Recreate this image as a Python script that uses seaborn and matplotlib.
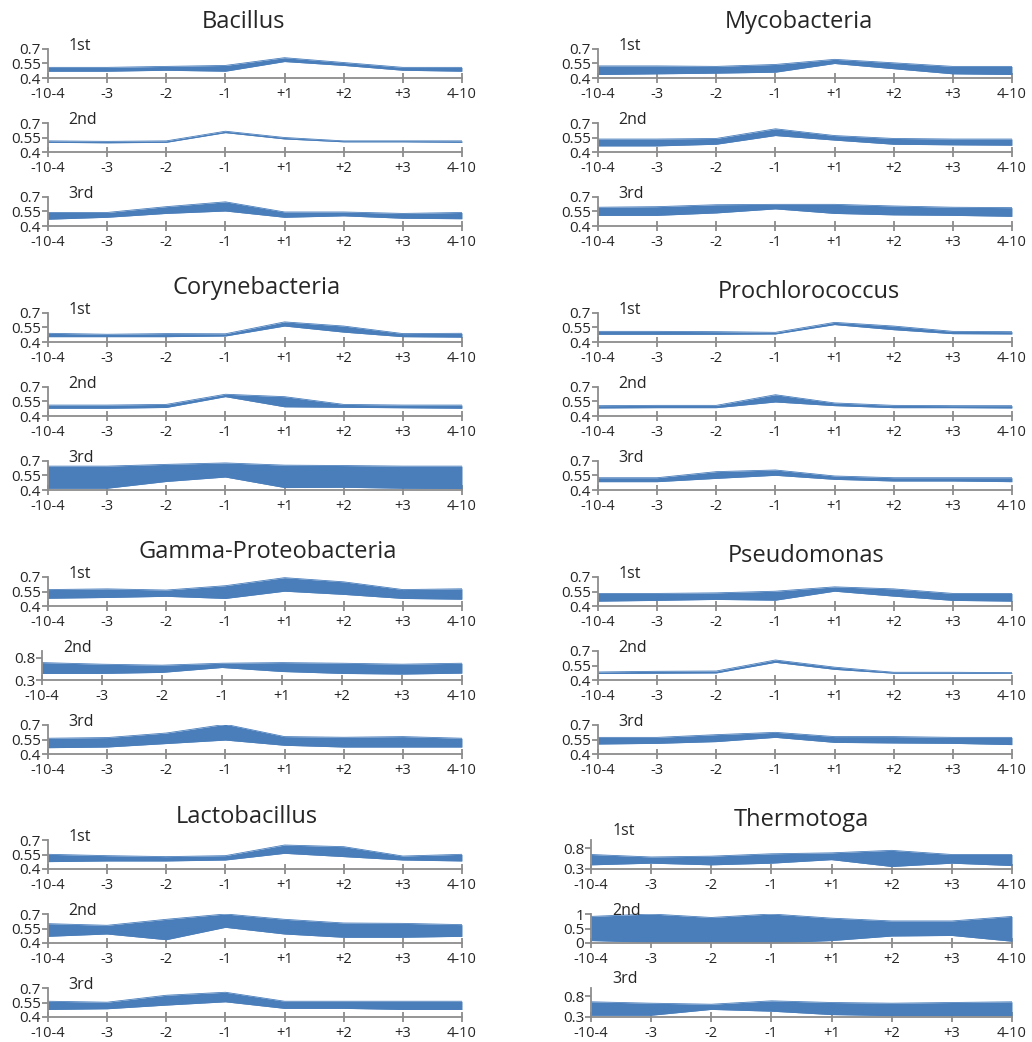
import numpy as np
import pandas as pd
import matplotlib
matplotlib.use("Agg")
import matplotlib.pyplot as plt
import seaborn as sns

positions = ['-10-4', '-3', '-2', '-1', '+1', '+2', '+3', '4-10']
panel_names = ['1st', '2nd', '3rd']

# lower / upper edge of each band, rows = 1st, 2nd, 3rd
bacillus_lo = [[0.47, 0.47, 0.48, 0.47, 0.57, 0.53, 0.48, 0.47],
               [0.50, 0.495, 0.50, 0.60, 0.535, 0.505, 0.505, 0.50],
               [0.47, 0.49, 0.53, 0.555, 0.49, 0.505, 0.48, 0.475]]
bacillus_hi = [[0.51, 0.51, 0.52, 0.53, 0.61, 0.56, 0.51, 0.51],
               [0.515, 0.51, 0.515, 0.615, 0.55, 0.515, 0.515, 0.515],
               [0.54, 0.54, 0.60, 0.65, 0.545, 0.545, 0.53, 0.54]]

myco_lo = [[0.436, 0.443, 0.45, 0.46, 0.55, 0.496, 0.443, 0.436],
           [0.463, 0.463, 0.48, 0.57, 0.523, 0.48, 0.474, 0.47],
           [0.51, 0.51, 0.535, 0.577, 0.53, 0.515, 0.51, 0.50]]
myco_hi = [[0.525, 0.525, 0.52, 0.54, 0.593, 0.557, 0.52, 0.52],
           [0.534, 0.534, 0.54, 0.64, 0.57, 0.54, 0.534, 0.534],
           [0.594, 0.60, 0.62, 0.624, 0.624, 0.607, 0.594, 0.59]]

coryne_lo = [[0.455, 0.455, 0.455, 0.462, 0.565, 0.502, 0.455, 0.45],
             [0.48, 0.48, 0.488, 0.60, 0.495, 0.49, 0.485, 0.48],
             [0.418, 0.418, 0.488, 0.534, 0.425, 0.428, 0.418, 0.415]]
coryne_hi = [[0.49, 0.48, 0.487, 0.485, 0.608, 0.565, 0.487, 0.49],
             [0.513, 0.513, 0.52, 0.625, 0.60, 0.52, 0.513, 0.513],
             [0.647, 0.647, 0.665, 0.68, 0.657, 0.653, 0.647, 0.647]]

prochloro_lo = [[0.48, 0.48, 0.48, 0.483, 0.58, 0.527, 0.486, 0.483],
                [0.483, 0.486, 0.486, 0.545, 0.507, 0.486, 0.486, 0.483],
                [0.486, 0.486, 0.52, 0.552, 0.51, 0.493, 0.493, 0.486]]
prochloro_hi = [[0.51, 0.51, 0.507, 0.50, 0.603, 0.565, 0.51, 0.507],
                [0.507, 0.51, 0.51, 0.62, 0.535, 0.51, 0.507, 0.507],
                [0.527, 0.527, 0.59, 0.607, 0.545, 0.527, 0.527, 0.527]]

gamma_lo = [[0.48, 0.488, 0.50, 0.478, 0.553, 0.52, 0.478, 0.47],
            [0.447, 0.447, 0.47, 0.58, 0.49, 0.447, 0.432, 0.454],
            [0.465, 0.472, 0.508, 0.544, 0.49, 0.472, 0.472, 0.472]]
gamma_hi = [[0.57, 0.577, 0.565, 0.61, 0.693, 0.65, 0.57, 0.578],
            [0.69, 0.654, 0.632, 0.676, 0.69, 0.676, 0.654, 0.676],
            [0.563, 0.57, 0.617, 0.707, 0.58, 0.573, 0.58, 0.563]]

pseudo_lo = [[0.45, 0.458, 0.468, 0.46, 0.553, 0.502, 0.458, 0.45],
             [0.467, 0.47, 0.473, 0.583, 0.51, 0.47, 0.47, 0.47],
             [0.503, 0.51, 0.528, 0.572, 0.52, 0.514, 0.51, 0.497]]
pseudo_hi = [[0.53, 0.53, 0.536, 0.553, 0.598, 0.577, 0.53, 0.53],
             [0.483, 0.49, 0.493, 0.607, 0.533, 0.48, 0.48, 0.476],
             [0.572, 0.572, 0.60, 0.624, 0.58, 0.58, 0.572, 0.572]]

lacto_lo = [[0.476, 0.483, 0.483, 0.493, 0.562, 0.528, 0.493, 0.483],
            [0.469, 0.493, 0.434, 0.562, 0.493, 0.459, 0.459, 0.469],
            [0.478, 0.485, 0.523, 0.557, 0.489, 0.489, 0.478, 0.478]]
lacto_hi = [[0.552, 0.538, 0.528, 0.538, 0.648, 0.631, 0.534, 0.552],
            [0.60, 0.583, 0.645, 0.70, 0.645, 0.607, 0.603, 0.59],
            [0.563, 0.553, 0.625, 0.656, 0.563, 0.563, 0.563, 0.563]]

thermo_lo = [[0.40, 0.44, 0.40, 0.44, 0.525, 0.36, 0.44, 0.383],
             [0.083, 0.024, 0.024, 0.0, 0.083, 0.24, 0.26, 0.06],
             [0.342, 0.342, 0.483, 0.44, 0.358, 0.333, 0.333, 0.333]]
thermo_hi = [[0.65, 0.59, 0.61, 0.667, 0.69, 0.75, 0.65, 0.65],
             [0.917, 1.0, 0.88, 1.0, 0.857, 0.76, 0.76, 0.917],
             [0.667, 0.633, 0.608, 0.69, 0.65, 0.633, 0.65, 0.667]]

# y scales
std_y = ((0.4, 0.7), [0.4, 0.55, 0.7], ['0.4', '0.55', '0.7'])
wide_y = ((0.3, 0.95), [0.3, 0.8], ['0.3', '0.8'])
thermo_y = ((0.3, 1.0), [0.3, 0.8], ['0.3', '0.8'])
full_y = ((0.0, 1.0), [0, 0.5, 1], ['0', '0.5', '1'])

# name, lower, upper, panel left px, row, y scales, title centre (px)
groups = [
    ('Bacillus', bacillus_lo, bacillus_hi, 48, 0, [std_y, std_y, std_y], (243, 22)),
    ('Corynebacteria', coryne_lo, coryne_hi, 48, 1, [std_y, std_y, std_y], (257, 288)),
    ('Gamma-Proteobacteria', gamma_lo, gamma_hi, 48, 2, [std_y, wide_y, std_y], (268, 552)),
    ('Lactobacillus', lacto_lo, lacto_hi, 48, 3, [std_y, std_y, std_y], (247, 817)),
    ('Mycobacteria', myco_lo, myco_hi, 598, 0, [std_y, std_y, std_y], (799, 22)),
    ('Prochlorococcus', prochloro_lo, prochloro_hi, 598, 1, [std_y, std_y, std_y], (809, 292)),
    ('Pseudomonas', pseudo_lo, pseudo_hi, 598, 2, [std_y, std_y, std_y], (806, 556)),
    ('Thermotoga', thermo_lo, thermo_hi, 591, 3, [thermo_y, full_y, thermo_y], (801, 820)),
]

sns.set_style("white")
plt.rcParams['font.family'] = ['Open Sans', 'DejaVu Sans']

W, H = 1032, 1042
fig = plt.figure(figsize=(W / 100, H / 100), dpi=100)

blue = '#4a7ebb'
grey = '#8c8c8c'
right_px = [462, 1012]
row_top = [49, 313, 577, 840]
panel_off = [0, 74, 148]
panel_h = 29

for name, lo, hi, x0, row, yscales, tpos in groups:
    x1 = right_px[0] if x0 < 500 else right_px[1]
    for k in range(3):
        top = row_top[row] + panel_off[k]
        xl = x0 - 6 if yscales[k] is wide_y else x0
        ax = fig.add_axes([xl / W, 1 - (top + panel_h) / H, (x1 - xl) / W, panel_h / H])
        df = pd.DataFrame({'pos': np.arange(len(positions)), 'lo': lo[k], 'hi': hi[k]})
        sns.lineplot(data=df, x='pos', y='lo', ax=ax, color=blue, lw=0.6)
        sns.lineplot(data=df, x='pos', y='hi', ax=ax, color=blue, lw=0.6)
        ax.fill_between(df['pos'], df['lo'], df['hi'], color=blue, lw=0)
        (ylim, yt, ytl) = yscales[k]
        ax.set_ylim(*ylim)
        ax.set_yticks(yt)
        ax.set_yticklabels(ytl)
        ax.set_xlim(0, len(positions) - 1)
        ax.set_xticks(np.arange(len(positions)))
        ax.set_xticklabels(positions)
        ax.set_xlabel('')
        ax.set_ylabel('')
        for s in ['top', 'right']:
            ax.spines[s].set_visible(False)
        for s in ['left', 'bottom']:
            ax.spines[s].set_color(grey)
            ax.spines[s].set_linewidth(1.3)
        ax.tick_params(axis='x', direction='inout', length=7, width=1.3, color=grey,
                       labelsize=10.5, pad=3, bottom=True)
        ax.tick_params(axis='y', direction='out', length=4, width=1.3, color=grey,
                       labelsize=11, pad=1, left=True)
        ly = 1.3 if yscales[k] is thermo_y else 1.1
        ax.text(0.05, ly, panel_names[k], transform=ax.transAxes,
                fontsize=11.5, va='center', ha='left')
    fig.text(tpos[0] / W, 1 - tpos[1] / H, name, fontsize=17, ha='center', va='center')

plt.savefig('out.png', dpi=100)
